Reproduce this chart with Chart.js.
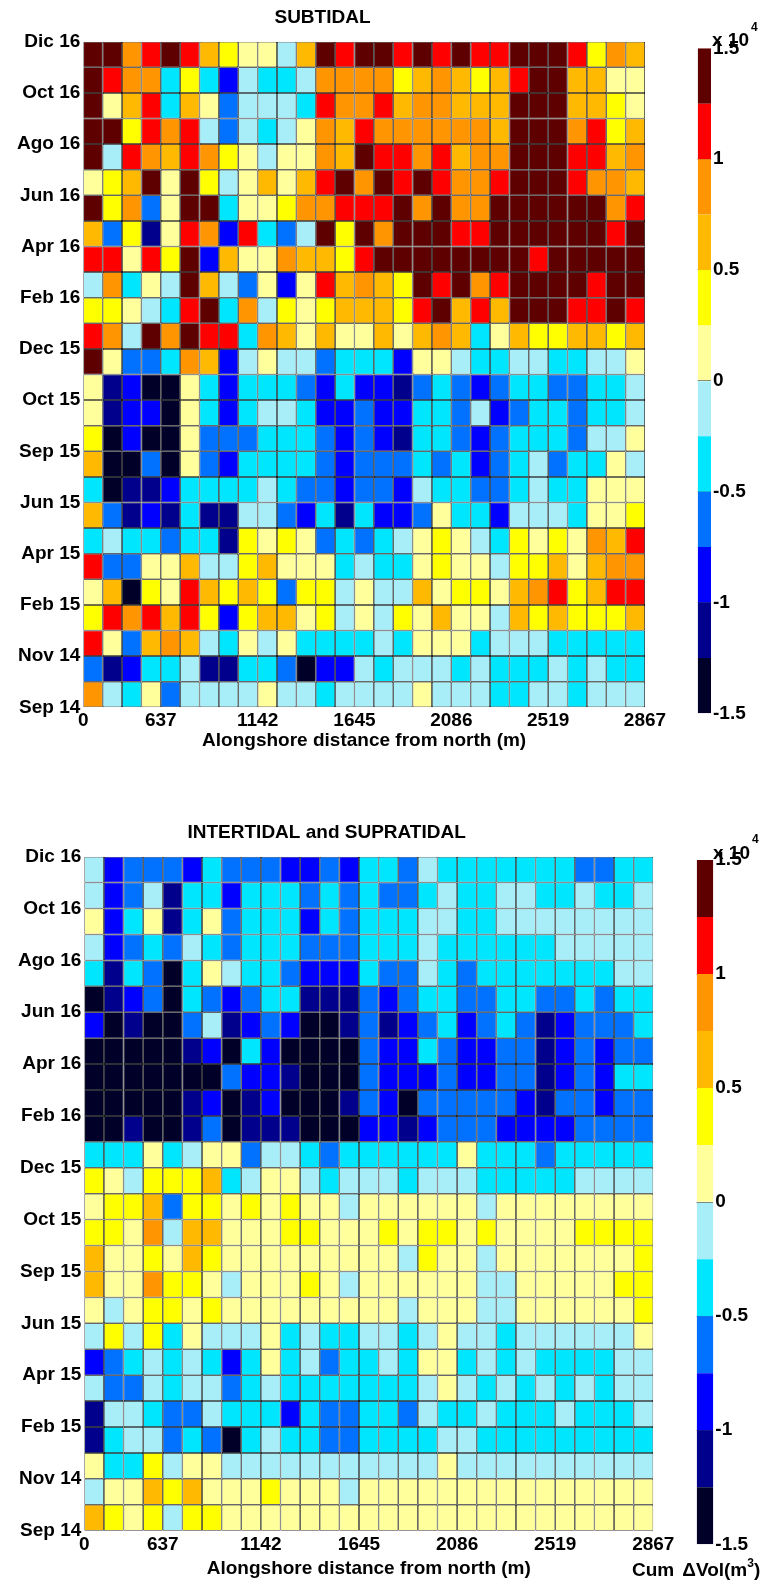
<!DOCTYPE html>
<html>
<head>
<meta charset="utf-8">
<script src="https://cdn.jsdelivr.net/npm/chart.js@4.4.1/dist/chart.umd.min.js"></script>
<style>
  body { margin: 0; background: #fff; width: 773px; height: 1582px; position: relative; overflow: hidden;
         font-family: "Liberation Sans", Arial, sans-serif; }
  canvas { position: absolute; }
  .lbl { position: absolute; font-weight: bold; font-size: 19px; line-height: 19px; color: #000; white-space: nowrap; }
  .sup { position: relative; font-size: 12px; }
</style>
</head>
<body>
<canvas id="subtidalChart" style="left:0;top:0" width="680" height="760"></canvas>
<canvas id="intertidalChart" style="left:0;top:800px" width="690" height="783"></canvas>
<canvas id="subtidalBar" style="left:600px;top:0" width="173" height="740"></canvas>
<canvas id="intertidalBar" style="left:600px;top:800px" width="173" height="782"></canvas>
<div class="lbl" style="left:712px;top:30px">x 10<span class="sup" style="top:-15px;margin-left:2px">4</span></div>
<div class="lbl" style="left:713px;top:843px">x 10<span class="sup" style="top:-16px;margin-left:2px">4</span></div>
<div class="lbl" style="left:632px;top:1560px">Cum<span style="margin-left:8px">ΔVol(m</span><span class="sup" style="top:-9px">3</span>)</div>
<script>
// month labels, top row first (every second row boundary)
const monthLabels = ["Dic 16", "Oct 16", "Ago 16", "Jun 16", "Apr 16", "Feb 16", "Dec 15",
                     "Oct 15", "Sep 15", "Jun 15", "Apr 15", "Feb 15", "Nov 14", "Sep 14"];
// alongshore distance tick labels and the column boundary they sit on
const distLabels = ["0", "637", "1142", "1645", "2086", "2519", "2867"];
const distTickCols = [0, 4, 9, 14, 19, 24, 29];

// colour scale, x 10^4 m3
const levelEdges = [-1.5, -1.25, -1, -0.75, -0.5, -0.25, 0, 0.25, 0.5, 0.75, 1, 1.25, 1.5];
const levelColors = ["#000028", "#00008c", "#0000ff", "#0072ff", "#00e6ff", "#a8eef8",
                     "#ffff9c", "#ffff00", "#ffb900", "#ff9500", "#ff0000", "#5e0000"];
const colorbarTicks = [-1.5, -1, -0.5, 0, 0.5, 1, 1.5];

// cumulative volume change, 10^3 m3; rows top (Dic 16) to bottom (Sep 14), 29 alongshore cells
const subtidalRows = [
  [14,14,9,11,14,11,6,4,1,1,-1,6,14,11,14,14,11,14,11,14,11,11,14,14,14,11,4,9,6],
  [14,11,9,9,-4,4,-4,-9,-1,-4,-4,-1,9,9,9,9,4,6,9,6,4,6,11,14,14,6,6,1,1],
  [14,1,6,11,-4,6,1,-6,-1,-1,-1,-4,11,9,9,11,6,9,9,6,6,6,14,14,14,6,6,4,1],
  [14,14,4,11,9,11,-1,-6,-1,-4,-1,1,9,6,11,9,9,9,9,9,9,6,14,14,14,9,11,4,6],
  [14,-1,11,9,6,11,9,4,1,-1,1,1,9,6,14,11,11,9,11,6,9,9,14,14,14,11,11,6,9],
  [1,4,6,14,1,14,4,-1,1,6,1,6,11,14,9,14,11,14,11,9,9,11,14,14,14,11,9,9,6],
  [14,4,9,-6,1,14,14,-4,1,1,4,9,9,11,11,11,14,9,14,9,9,14,14,14,14,14,14,9,11],
  [6,-6,4,-11,1,11,9,-9,11,-4,-6,-1,14,4,14,9,14,14,14,11,11,14,14,14,14,14,14,11,14],
  [11,11,1,11,4,14,-9,6,1,1,9,6,6,4,11,14,14,14,14,14,14,14,14,11,14,14,14,14,14],
  [-1,9,-4,1,-1,14,6,-1,-6,1,-9,1,11,6,9,6,4,14,11,14,9,11,14,14,14,14,11,14,14],
  [4,4,1,-1,-4,11,14,-4,9,-1,4,1,4,6,6,6,4,11,14,6,11,6,14,14,14,11,11,14,11],
  [11,9,-1,14,9,14,11,11,-4,9,6,1,6,1,1,6,1,6,9,6,-4,1,6,4,4,6,6,4,6],
  [14,1,-6,-6,-4,9,6,-9,-1,1,-1,-1,-6,-4,-4,-4,-9,1,1,-1,-4,-4,-1,-1,-4,-4,-1,-1,1],
  [1,-11,-9,-14,-14,1,-4,-9,-4,-4,-4,-6,-9,-4,-9,-9,-11,-6,-4,-6,-9,-6,-4,-4,-6,-6,-4,-4,-1],
  [1,-11,-9,-9,-14,1,-4,-9,-4,-1,-1,-4,-9,-9,-6,-9,-9,-4,-4,-6,-1,-9,-6,-4,-4,-6,-4,-4,-1],
  [4,-14,-9,-14,-14,1,-6,-6,-6,-4,-4,-4,-6,-9,-6,-9,-11,-4,-4,-6,-9,-6,-4,-4,-4,-6,-1,-1,1],
  [6,-14,-14,-6,-14,1,-6,-9,-4,-4,-4,-4,-6,-9,-6,-6,-6,-4,-6,-4,-9,-6,-4,-1,-6,-4,-4,1,-1],
  [-4,-14,-11,-11,-9,-4,-4,-4,-4,-1,-4,-6,-6,-9,-6,-6,-9,-1,-4,-4,-6,-6,-4,-1,-4,-4,1,1,1],
  [6,-6,-11,-9,-11,-4,-11,-11,-1,-1,-6,-9,-4,-11,-4,-9,-9,-6,1,-4,-4,-9,-1,-1,-1,-4,1,1,4],
  [-4,-1,-4,-4,-6,-4,-4,-11,4,1,4,1,-6,-4,-6,-4,-1,1,4,1,-1,-4,4,1,4,1,9,6,11],
  [11,-6,-6,1,1,6,-1,-1,4,6,1,1,1,-4,-1,-4,-4,1,4,1,1,-1,4,4,6,1,6,9,9],
  [1,6,-14,4,1,11,6,4,6,4,-6,4,4,-1,1,-1,-1,6,1,4,4,1,6,9,11,4,6,11,11],
  [4,11,9,11,6,11,4,-9,4,6,6,1,4,-1,1,-1,4,1,6,1,1,-1,6,4,6,4,4,4,6],
  [11,1,-6,6,9,6,-1,-4,1,-1,1,-4,-4,-4,-4,-1,-4,1,1,1,-4,-1,-1,-1,-4,-4,-4,-4,-4],
  [-6,-11,-9,-4,-4,-1,-11,-11,-4,-4,-6,-14,-9,-9,-1,-4,-1,-1,-1,-4,-1,-4,-4,-4,-1,-4,-1,-4,-4],
  [9,-1,-4,1,-6,-1,-1,-1,-1,1,-1,-1,-4,-1,-1,-1,-1,1,-1,-1,-1,-4,-4,-1,-1,-4,-1,-1,-1]
];

const intertidalRows = [
  [-1,-9,-6,-6,-6,-9,-4,-6,-6,-6,-9,-9,-6,-9,-4,-4,-6,-1,-4,-4,-4,-4,-4,-4,-4,-6,-6,-4,-4],
  [-1,-9,-6,-1,-11,-4,-4,-9,-4,-4,-4,-6,-4,-6,-4,-6,-6,-4,-1,-4,-4,-1,-1,-4,-4,-1,-4,-4,-1],
  [1,-9,-4,1,-11,-4,1,-6,-4,-4,-4,-9,-4,-6,-4,-4,-4,-1,-1,-4,-4,-1,-1,-1,-1,-1,-1,-1,-1],
  [-1,-9,-6,-4,-6,-1,-4,-6,-4,-4,-4,-6,-6,-6,-4,-4,-4,-1,-4,-4,-4,-4,-4,-4,-1,-1,-1,-1,-1],
  [-4,-11,-4,-6,-14,-4,1,-1,-4,-4,-6,-9,-9,-9,-4,-6,-6,-1,-4,-6,-4,-4,-4,-4,-4,-4,-4,-1,-1],
  [-14,-11,-9,-6,-14,-4,-6,-9,-6,-4,-4,-11,-11,-11,-6,-9,-6,-4,-4,-6,-6,-4,-4,-6,-6,-4,-6,-4,-4],
  [-9,-14,-11,-14,-14,-6,-1,-11,-9,-6,-9,-14,-14,-11,-6,-11,-9,-6,-4,-9,-6,-4,-6,-11,-9,-6,-6,-6,-4],
  [-14,-14,-14,-14,-14,-11,-9,-14,-4,-9,-14,-14,-14,-14,-6,-9,-9,-4,-6,-9,-9,-6,-6,-11,-9,-6,-9,-6,-6],
  [-14,-14,-14,-14,-14,-14,-14,-6,-9,-9,-11,-14,-14,-14,-6,-9,-9,-9,-6,-9,-9,-6,-6,-11,-9,-6,-9,-4,-4],
  [-14,-14,-14,-14,-14,-11,-9,-14,-11,-9,-14,-14,-14,-11,-6,-9,-14,-6,-6,-6,-6,-6,-9,-11,-6,-6,-9,-6,-6],
  [-14,-14,-11,-14,-14,-11,-6,-14,-11,-11,-11,-14,-14,-14,-9,-9,-11,-9,-6,-6,-6,-9,-9,-9,-9,-6,-6,-6,-6],
  [-4,-4,-4,1,-4,-1,1,1,-6,-1,-1,-4,-6,-4,-4,-4,-4,-4,-4,1,-4,-4,-4,-6,-4,-4,-4,-4,-4],
  [4,1,-1,4,4,4,6,-4,-1,1,1,-1,-4,-1,-1,-1,-4,-1,-1,-1,-4,-4,-4,-4,-4,-1,-1,-1,-1],
  [1,4,4,6,-6,4,4,1,4,1,4,1,1,-1,1,1,1,1,1,1,-1,1,1,1,1,1,1,1,1],
  [4,4,1,9,-1,6,6,1,1,1,4,4,1,1,1,4,1,4,4,1,4,1,1,1,1,4,4,4,4],
  [6,1,1,4,1,6,4,1,1,1,1,1,1,1,1,1,-1,4,1,1,-1,1,1,1,1,1,1,1,4],
  [6,1,1,9,4,4,1,-1,1,1,1,4,1,-1,1,1,1,1,1,1,-1,-1,1,1,1,1,1,4,4],
  [1,-1,1,4,4,1,4,1,1,1,1,1,1,1,1,1,-1,1,1,1,-1,-1,1,1,1,1,1,1,4],
  [-1,4,-1,4,-4,1,-1,-1,-1,1,-4,-1,-4,-4,-1,-1,-4,-1,1,-1,-1,-4,-1,-1,-1,-1,-1,-1,1],
  [-9,-6,-4,-1,-4,-1,-4,-9,-4,1,-4,-1,-6,-4,-4,-1,-4,1,1,-4,-1,-4,-1,-4,-4,-4,-4,-1,-1],
  [-1,-6,-6,-1,-4,-1,-1,-6,-4,-1,-4,-4,-4,-4,-4,-4,-4,-1,1,-1,-4,-1,-4,-1,-4,-1,-4,-1,-1],
  [-11,-1,-1,-4,-6,-6,-1,-4,-4,-4,-9,-4,-6,-6,-4,-4,-6,-1,-4,-4,-1,-4,-4,-4,-1,-4,-4,-4,-1],
  [-11,-4,-1,-1,-6,-4,-6,-14,-4,-1,-4,-4,-6,-6,-4,-4,-4,-4,-1,-1,-4,-4,-4,-4,-4,-4,-4,-4,-4],
  [1,-4,-4,4,-1,1,1,-1,-1,-1,-1,-1,-1,-1,-1,-1,-1,-1,1,-1,-1,-1,-1,-1,-1,-1,-1,-1,-1],
  [-1,1,1,6,4,6,1,1,1,4,1,1,1,-1,1,1,1,1,1,1,1,1,1,1,1,1,1,1,1],
  [6,4,1,4,-1,4,4,1,1,1,1,1,1,1,1,1,1,1,1,1,1,1,1,1,1,1,1,1,1]
];

const labelFont = { family: '"Liberation Sans", Arial, sans-serif', size: 19, weight: "bold", lineHeight: 1.2 };

function colorFor(v) {
    const s = v / 10; // 10^3 -> 10^4 m3
    for (let i = 0; i < levelColors.length; i++) {
        if (s < levelEdges[i + 1]) return levelColors[i];
    }
    return levelColors[levelColors.length - 1];
}

function renderHeatmap(canvasId, title, rows, box) {
    const nRows = rows.length;
    const nCols = rows[0].length;

    const datasets = rows.map((vals, r) => ({
        data: vals.map((v, c) => ({ x: c + 0.5, y: [nRows - 1 - r, nRows - r] })),
        backgroundColor: vals.map(colorFor),
        borderColor: "#000",
        borderWidth: 0.75,
        borderSkipped: false,
        inflateAmount: 0,
        grouped: false,
        barPercentage: 1,
        categoryPercentage: 1
    }));

    new Chart(document.getElementById(canvasId), {
        type: "bar",
        data: { datasets },
        options: {
            responsive: false,
            animation: false,
            layout: { padding: { left: 0, right: box.padRight, top: 0, bottom: 0 } },
            plugins: {
                legend: { display: false },
                tooltip: { enabled: false },
                title: {
                    display: true,
                    text: title,
                    color: "#000",
                    font: labelFont,
                    padding: { top: box.titleTop, bottom: box.titleBottom }
                }
            },
            scales: {
                x: {
                    type: "linear",
                    min: 0,
                    max: nCols,
                    offset: false,
                    grid: { display: false, drawTicks: false },
                    border: { display: false },
                    afterBuildTicks: (s) => { s.ticks = distTickCols.map((v) => ({ value: v })); },
                    afterFit: (s) => { s.height = box.xHeight; },
                    ticks: { color: "#000", font: labelFont, padding: box.tickPad, autoSkip: false, maxRotation: 0,
                             callback: (v, i) => distLabels[i] },
                    title: { display: true, text: "Alongshore distance from north (m)", color: "#000",
                             font: labelFont, padding: { top: 0, bottom: box.xTitleBottom } }
                },
                y: {
                    type: "linear",
                    min: 0,
                    max: nRows,
                    grid: { display: false, drawTicks: false },
                    border: { display: false },
                    afterBuildTicks: (s) => {
                        s.ticks = monthLabels.map((m, k) => ({ value: nRows - 2 * k })).reverse();
                    },
                    afterFit: (s) => { s.width = box.yWidth; },
                    ticks: { color: "#000", font: labelFont, padding: 3, autoSkip: false,
                             callback: (v) => monthLabels[(nRows - v) / 2] }
                }
            }
        }
    });
}

function renderColorbar(canvasId, box) {
    const datasets = levelColors.map((col, i) => ({
        data: [[levelEdges[i], levelEdges[i + 1]]],
        backgroundColor: col,
        borderWidth: 0,
        inflateAmount: 0,
        grouped: false,
        barPercentage: 1,
        categoryPercentage: 1
    }));

    new Chart(document.getElementById(canvasId), {
        type: "bar",
        data: { labels: [""], datasets },
        options: {
            responsive: false,
            animation: false,
            layout: { padding: { left: box.padLeft, right: 0, top: box.padTop, bottom: box.padBottom } },
            plugins: { legend: { display: false }, tooltip: { enabled: false } },
            scales: {
                x: { display: false },
                y: {
                    position: "right",
                    min: -1.5,
                    max: 1.5,
                    border: { display: false },
                    grid: {
                        drawTicks: false,
                        lineWidth: 1,
                        color: (ctx) => (Math.abs(ctx.tick.value) < 1.5 ? "rgba(0,0,0,0.6)" : "rgba(0,0,0,0)")
                    },
                    afterBuildTicks: (s) => { s.ticks = colorbarTicks.map((v) => ({ value: v })); },
                    afterFit: (s) => { s.width = box.yWidth; },
                    ticks: { color: "#000", font: labelFont, padding: 2, callback: (v) => String(v) }
                }
            }
        }
    });
}

renderHeatmap("subtidalChart", "SUBTIDAL", subtidalRows,
    { titleTop: 6.6, titleBottom: 12.3, yWidth: 83.3, padRight: 35, xHeight: 52.7, tickPad: 2.5, xTitleBottom: 7.6 });
renderHeatmap("intertidalChart", "INTERTIDAL and SUPRATIDAL", intertidalRows,
    { titleTop: 21.6, titleBottom: 12.3, yWidth: 84.3, padRight: 36.7, xHeight: 52.3, tickPad: 3, xTitleBottom: 2.6 });
renderColorbar("subtidalBar", { padLeft: 97.7, padTop: 48.3, padBottom: 26.7, yWidth: 62 });
renderColorbar("intertidalBar", { padLeft: 96.7, padTop: 60, padBottom: 37.7, yWidth: 59.7 });
</script>
</body>
</html>
